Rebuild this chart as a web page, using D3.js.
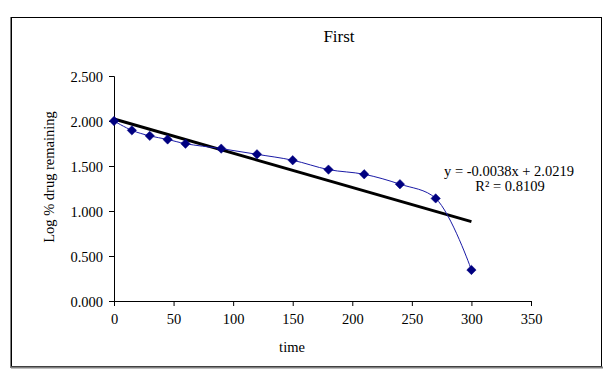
<!DOCTYPE html>
<html>
<head>
<meta charset="utf-8">
<script src="https://cdn.jsdelivr.net/npm/d3@7"></script>
<style>
  html, body { margin: 0; padding: 0; background: #fff; }
  svg { display: block; }
  text { font-family: "Liberation Serif", "Times New Roman", serif; fill: #000; }
</style>
</head>
<body>
<svg id="chart" width="613" height="378"></svg>
<script>
// Data
const times = [0, 15, 30, 45, 60, 90, 120, 150, 180, 210, 240, 270, 300];
const logRemaining = [2.000, 1.896, 1.835, 1.795, 1.748, 1.693, 1.630, 1.564, 1.460, 1.408, 1.298, 1.140, 0.345];
const trendSlope = -0.0038;
const trendIntercept = 2.0219;
const trendRange = [0, 300];
const xTicks = [0, 50, 100, 150, 200, 250, 300, 350];
const yTicks = [0, 0.5, 1.0, 1.5, 2.0, 2.5];
const titleText = "First";
const xLabel = "time";
const yLabel = "Log % drug remaining";
const eqText = "y = -0.0038x + 2.0219";
const r2Text = "R\u00B2 = 0.8109";

const svg = d3.select("#chart");

// Outer frame
svg.append("rect").attr("x", 11.5).attr("y", 17.5).attr("width", 590).attr("height", 349)
  .attr("fill", "#fff").attr("stroke", "#000").attr("stroke-width", 1);
svg.append("line").attr("x1", 11).attr("x2", 603).attr("y1", 367.5).attr("y2", 367.5)
  .attr("stroke", "#808080").attr("stroke-width", 2);
svg.append("line").attr("x1", 10.5).attr("x2", 10.5).attr("y1", 17).attr("y2", 368)
  .attr("stroke", "#808080").attr("stroke-width", 1);

const x = d3.scaleLinear().domain([0, 350]).range([114, 531]);
const y = d3.scaleLinear().domain([0, 2.5]).range([301, 76]);

// Axes
const xAxis = d3.axisBottom(x).tickValues(xTicks).tickSize(5).tickFormat(d3.format("d"));
const yAxis = d3.axisLeft(y).tickValues(yTicks).tickSize(5).tickFormat(d3.format(".3f"));

const gx = svg.append("g").attr("transform", `translate(0,${y(0)})`).call(xAxis);
const gy = svg.append("g").attr("transform", `translate(${x(0)},0)`).call(yAxis);
[gx, gy].forEach(g => {
  g.select(".domain").attr("stroke", "#000").attr("stroke-width", 1);
  g.selectAll(".tick line").attr("stroke", "#000");
  g.selectAll(".tick text").attr("font-family", "Liberation Serif, Times New Roman, serif")
    .attr("font-size", 14.5).attr("fill", "#000");
});
gx.selectAll(".tick text").attr("dy", "1.05em");
gy.selectAll(".tick text").attr("x", -11).attr("dy", "0.35em");

// Titles
svg.append("text").attr("x", 339).attr("y", 42).attr("text-anchor", "middle")
  .attr("font-size", 17).text(titleText);
svg.append("text").attr("x", 292).attr("y", 352).attr("text-anchor", "middle")
  .attr("font-size", 14.5).text(xLabel);
svg.append("text").attr("transform", "translate(54,177) rotate(-90)").attr("text-anchor", "middle")
  .attr("font-size", 14.5).text(yLabel);

// Trendline
svg.append("line")
  .attr("x1", x(trendRange[0])).attr("y1", y(trendIntercept + trendSlope * trendRange[0]))
  .attr("x2", x(trendRange[1])).attr("y2", y(trendIntercept + trendSlope * trendRange[1]))
  .attr("stroke", "#000").attr("stroke-width", 3);

// Smoothed data line
const pts = times.map((t, i) => [t, logRemaining[i]]);
const line = d3.line().x(d => x(d[0])).y(d => y(d[1])).curve(d3.curveCatmullRom.alpha(0.5));
svg.append("path").datum(pts).attr("d", line).attr("fill", "none")
  .attr("stroke", "#1a1aa6").attr("stroke-width", 1);

// Diamond markers
const r = 4.7;
svg.append("g").selectAll("path").data(pts).join("path")
  .attr("d", d => {
    const cx = x(d[0]), cy = y(d[1]);
    return `M${cx},${cy - r}L${cx + r},${cy}L${cx},${cy + r}L${cx - r},${cy}Z`;
  })
  .attr("fill", "#000080").attr("stroke", "#000080").attr("stroke-width", 0.5);

// Equation
svg.append("text").attr("x", 509).attr("y", 176).attr("text-anchor", "middle")
  .attr("font-size", 14.5).text(eqText);
svg.append("text").attr("x", 510).attr("y", 191).attr("text-anchor", "middle")
  .attr("font-size", 14.5).text(r2Text);
</script>
</body>
</html>
